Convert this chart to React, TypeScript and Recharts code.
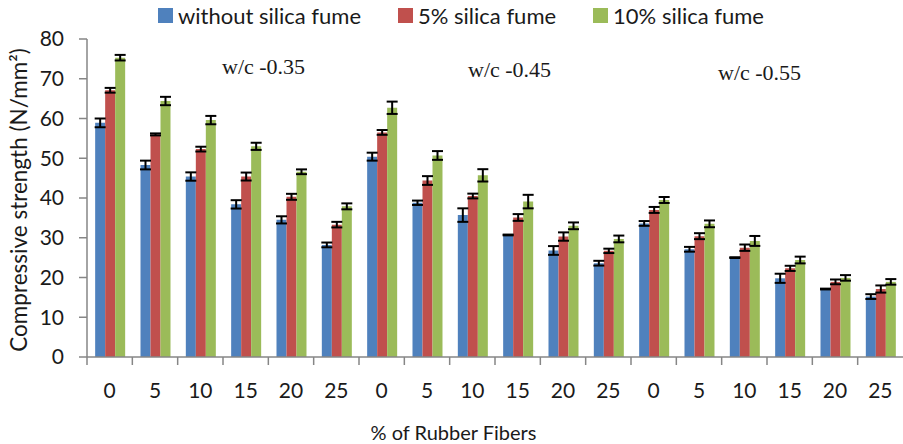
import React from "react";
import { BarChart, Bar, XAxis, YAxis, ErrorBar } from "recharts";

// Compressive strength (N/mm²) by rubber fiber %, three w/c groups of six mixes each
const fiberPct = ["0", "5", "10", "15", "20", "25", "0", "5", "10", "15", "20", "25", "0", "5", "10", "15", "20", "25"];

const withoutSF = [58.9, 48.3, 45.4, 38.4, 34.5, 28.2, 50.4, 38.8, 35.7, 30.7, 26.8, 23.6, 33.6, 27.1, 25.0, 19.8, 17.1, 15.2];
const sf5 = [67.1, 56.0, 52.3, 45.4, 40.3, 33.3, 56.5, 44.4, 40.5, 35.1, 30.3, 26.7, 37.0, 30.4, 27.5, 22.3, 18.9, 17.1];
const sf10 = [75.3, 64.4, 59.6, 53.0, 46.6, 37.9, 62.7, 50.7, 45.7, 39.1, 33.0, 29.7, 39.5, 33.5, 29.2, 24.4, 19.9, 18.9];

const errWithout = [1.1, 1.1, 1.05, 1.05, 0.9, 0.6, 1.0, 0.55, 1.7, 0.1, 1.1, 0.6, 0.6, 0.6, 0.1, 1.15, 0.1, 0.6];
const err5 = [0.6, 0.25, 0.6, 1.0, 0.75, 0.7, 0.6, 1.1, 0.6, 0.85, 1.05, 0.55, 0.75, 0.75, 0.8, 0.65, 0.6, 0.9];
const err10 = [0.7, 1.05, 1.05, 0.9, 0.6, 0.75, 1.55, 1.1, 1.55, 1.7, 0.85, 0.85, 0.75, 0.85, 1.25, 0.85, 0.7, 0.7];

const yTicks = [0, 10, 20, 30, 40, 50, 60, 70, 80];

const groupNotes = [
  { text: "w/c -0.35", left: 222, top: 54 },
  { text: "w/c -0.45", left: 468, top: 57 },
  { text: "w/c -0.55", left: 718, top: 60 },
];

const series = [
  { key: "without", err: "errWithout", name: "without silica fume", color: "#4F81BD" },
  { key: "sf5", err: "err5", name: "5% silica fume", color: "#C0504D" },
  { key: "sf10", err: "err10", name: "10% silica fume", color: "#9BBB59" },
];

const data = fiberPct.map((label, i) => ({
  label,
  without: withoutSF[i],
  sf5: sf5[i],
  sf10: sf10[i],
  errWithout: errWithout[i],
  err5: err5[i],
  err10: err10[i],
}));

const W = 903;
const H = 444;
const AXIS_W = 87;
const FONT = "Lato, 'Open Sans', sans-serif";
const AXIS_GREY = "#868686";

// category ticks sit between bar groups, labels in the middle
const XTick = (props: any) => {
  const { x, y, payload } = props;
  const step = (W - AXIS_W) / fiberPct.length;
  const bx = x - step / 2;
  return (
    <g>
      <line x1={bx} y1={y} x2={bx} y2={y + 8} stroke={AXIS_GREY} strokeWidth={1.5} />
      <text x={x} y={y + 41} textAnchor="middle" fontFamily={FONT} fontSize={21} fill="#1a1a1a">
        {payload.value}
      </text>
    </g>
  );
};

const YTitle = (props: any) => {
  const { viewBox } = props;
  const cx = 18;
  const cy = viewBox.y + viewBox.height / 2 + 2;
  return (
    <text
      x={cx}
      y={cy}
      transform={`rotate(-90, ${cx}, ${cy})`}
      textAnchor="middle"
      dominantBaseline="central"
      fontFamily={FONT}
      fontSize={22.5}
      fill="#1a1a1a"
    >
      Compressive strength (N/mm²)
    </text>
  );
};

const XTitle = (props: any) => {
  const { viewBox } = props;
  return (
    <text x={W / 2 + 2} y={viewBox.y + 83} textAnchor="middle" fontFamily={FONT} fontSize={20} fill="#1a1a1a">
      % of Rubber Fibers
    </text>
  );
};

export default function App() {
  return (
    <div style={{ position: "absolute", left: 0, top: 0, width: W, height: H, background: "#fff" }}>
      <BarChart
        width={W}
        height={H}
        data={data}
        margin={{ top: 39, right: 0, bottom: 0, left: 0 }}
        barGap={0}
        barCategoryGap="18%"
      >
        <XAxis
          dataKey="label"
          height={87}
          interval={0}
          tickSize={0}
          tickMargin={0}
          tickLine={false}
          axisLine={{ stroke: AXIS_GREY, strokeWidth: 1.5 }}
          tick={<XTick />}
          label={<XTitle />}
        />
        <YAxis
          width={AXIS_W}
          domain={[0, 80]}
          ticks={yTicks}
          interval={0}
          tickSize={8}
          tickMargin={15}
          tickLine={{ stroke: AXIS_GREY, strokeWidth: 1.5 }}
          axisLine={{ stroke: AXIS_GREY, strokeWidth: 1.5 }}
          tick={{ fontFamily: FONT, fontSize: 21, fill: "#1a1a1a" }}
          label={<YTitle />}
        />
        {series.map((s) => (
          <Bar key={s.key} dataKey={s.key} name={s.name} fill={s.color} isAnimationActive={false}>
            <ErrorBar dataKey={s.err} width={5.5} stroke="#000" strokeWidth={2} />
          </Bar>
        ))}
      </BarChart>

      <div
        style={{
          position: "absolute",
          left: 158,
          top: 2,
          display: "flex",
          alignItems: "center",
          fontFamily: FONT,
          fontSize: 22,
          color: "#1a1a1a",
          whiteSpace: "nowrap",
        }}
      >
        {series.map((s) => (
          <div key={s.key} style={{ display: "flex", alignItems: "center", marginRight: 37 }}>
            <span style={{ display: "inline-block", width: 15, height: 15, background: s.color, marginRight: 5 }} />
            <span>{s.name}</span>
          </div>
        ))}
      </div>

      {groupNotes.map((n) => (
        <div
          key={n.text}
          style={{
            position: "absolute",
            left: n.left,
            top: n.top,
            fontFamily: "'Liberation Serif', 'Times New Roman', serif",
            fontSize: 22,
            color: "#1a1a1a",
            whiteSpace: "nowrap",
          }}
        >
          {n.text}
        </div>
      ))}
    </div>
  );
}
